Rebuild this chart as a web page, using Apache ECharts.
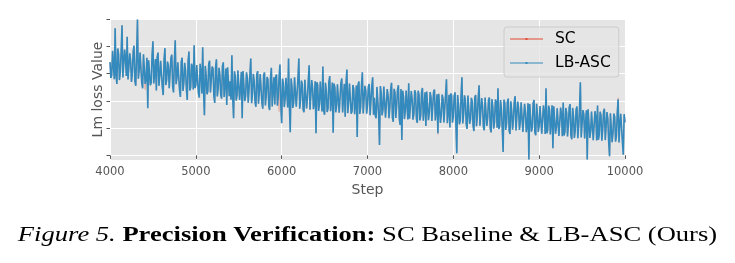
<!DOCTYPE html>
<html>
<head>
<meta charset="utf-8">
<script src="https://cdn.jsdelivr.net/npm/echarts@6/dist/echarts.min.js"></script>
<style>
  html, body { margin: 0; padding: 0; background: #fff; }
  #chart { width: 735px; height: 263px; }
</style>
</head>
<body>
<div id="chart"></div>
<script>
// one reading every 10 steps, from 4000 to 10000
const stepStart = 4000
const stepSize = 10

const lbAscLoss = [
  3.42, 2.84, 2.95, 3.83, 3.88, 2.79, 4.66, 2.93, 2.62, 3.92, 3.71, 2.76, 3.05, 3.81, 4.77, 2.86, 2.88, 3.88, 3.56, 2.91,
  4.35, 2.78, 2.71, 3.74, 3.49, 2.69, 2.98, 3.81, 4.02, 2.72, 2.55, 3.68, 4.98, 2.81, 3.12, 3.77, 3.78, 2.67, 2.46, 3.71,
  3.64, 2.62, 2.83, 3.58, 1.73, 3.49, 3.51, 2.57, 2.67, 3.66, 4.18, 2.64, 3.02, 3.53, 2.38, 3.61, 3.77, 2.55, 2.94, 3.47,
  3.46, 2.49, 2.21, 3.52, 3.93, 2.58, 2.76, 3.44, 3.28, 2.46, 2.52, 3.57, 3.69, 2.53, 2.31, 3.48, 4.22, 2.61, 2.85, 3.41,
  3.37, 2.41, 2.14, 3.43, 3.58, 2.36, 2.66, 3.39, 3.12, 2.44, 2.03, 3.47, 3.81, 2.38, 2.49, 3.36, 3.24, 2.42, 4.04, 2.47,
  2.58, 3.31, 3.33, 2.29, 2.12, 3.36, 3.05, 2.27, 3.96, 2.33, 1.47, 3.28, 2.94, 2.24, 2.36, 3.35, 3.47, 2.31, 2.29, 3.26,
  3.18, 2.19, 1.92, 3.24, 3.52, 2.16, 2.44, 3.21, 2.97, 2.22, 2.08, 3.27, 3.41, 2.14, 2.61, 3.18, 1.85, 3.23, 3.26, 2.17,
  2.72, 2.04, 3.67, 2.09, 1.36, 3.08, 2.89, 2.01, 2.21, 3.11, 3.14, 2.03, 2.47, 3.06, 1.36, 3.09, 3.02, 1.99, 2.18, 3.04,
  2.83, 1.93, 1.94, 2.97, 3.55, 1.91, 2.27, 2.99, 2.71, 1.94, 1.78, 2.96, 3.09, 1.89, 2.36, 2.98, 2.92, 1.92, 1.71, 2.95,
  3.04, 1.83, 2.19, 2.87, 2.78, 1.81, 1.66, 2.84, 3.21, 1.79, 2.42, 2.86, 1.87, 2.88, 2.96, 1.82, 2.13, 2.89, 3.33, 1.85,
  1.18, 2.81, 2.64, 1.77, 2.07, 2.84, 2.88, 1.76, 3.55, 1.79, 0.85, 2.82, 2.52, 1.74, 1.93, 2.86, 2.79, 1.78, 1.74, 2.83,
  3.55, 1.71, 2.02, 2.74, 2.61, 1.68, 1.58, 2.77, 2.84, 1.72, 2.11, 2.73, 3.30, 1.67, 1.69, 2.76, 2.47, 1.69, 1.95, 2.72,
  0.81, 2.68, 2.58, 1.63, 1.88, 2.71, 2.73, 1.61, 3.26, 1.64, 1.49, 2.66, 2.36, 1.59, 1.72, 2.69, 2.91, 1.62, 2.04, 2.67,
  0.83, 2.63, 2.49, 1.58, 1.81, 2.61, 2.67, 1.56, 1.53, 2.64, 2.82, 1.57, 2.08, 2.62, 1.42, 2.65, 3.15, 1.55, 1.97, 2.63,
  2.56, 1.53, 1.62, 2.58, 2.43, 1.51, 1.91, 2.56, 0.67, 2.59, 2.71, 1.52, 1.77, 2.57, 3.05, 1.54, 1.58, 2.55, 2.38, 1.53,
  1.84, 2.52, 2.62, 1.47, 1.49, 2.53, 2.86, 1.49, 2.11, 1.48, 1.36, 2.51, 2.54, 1.46, 0.38, 2.54, 2.27, 1.47, 1.68, 2.52,
  2.49, 1.38, 1.41, 2.43, 2.18, 1.36, 1.75, 2.42, 2.66, 1.39, 1.23, 2.44, 2.31, 1.37, 1.84, 2.41, 2.57, 1.36, 1.12, 2.43,
  0.56, 2.37, 2.14, 1.33, 1.62, 2.38, 2.39, 1.32, 2.64, 1.34, 1.35, 2.36, 2.06, 1.31, 1.51, 2.39, 2.28, 1.33, 1.19, 2.37,
  2.22, 1.28, 1.46, 2.33, 2.47, 1.27, 1.71, 2.31, 1.08, 2.34, 2.35, 1.29, 1.58, 2.32, 2.13, 1.26, 1.29, 2.33, 2.41, 1.28,
  1.66, 2.24, 0.81, 2.26, 2.24, 1.19, 1.49, 2.23, 2.07, 1.21, 1.18, 2.25, 2.79, 1.18, 1.57, 2.22, 1.02, 2.27, 2.19, 1.20,
  1.42, 2.19, 2.31, 1.16, 0.08, 2.21, 1.87, 1.14, 1.26, 2.18, 2.86, 1.17, 1.53, 2.20, 2.02, 1.15, 0.97, 2.19, 2.16, 1.16,
  1.31, 2.11, 1.98, 1.08, 0.89, 2.13, 2.21, 1.07, 1.44, 2.12, 2.57, 1.09, 1.16, 2.10, 1.83, 1.06, 0.92, 2.12, 2.09, 1.08,
  1.37, 2.04, 2.12, 0.99, 0.84, 2.06, 1.76, 0.98, 1.23, 2.05, 1.95, 1.01, 2.46, 0.97, 1.08, 2.03, 1.69, 0.99, 0.12, 2.04,
  1.91, 0.93, 1.17, 1.97, 2.08, 0.92, 0.78, 1.98, 1.62, 0.94, 1.29, 1.96, 2.17, 0.91, 0.96, 1.97, 1.73, 0.93, 1.24, 1.95,
  1.96, 0.86, 0.87, 1.89, 1.58, 0.85, 1.12, 1.91, -0.15, 1.88, 1.81, 0.87, 1.03, 1.90, 2.03, 0.84, 0.74, 1.89, 1.47, 0.86,
  1.09, 1.81, 1.86, 0.79, 0.81, 1.83, 1.54, 0.78, 2.46, 0.81, 0.93, 1.82, 1.68, 0.77, 1.21, 1.84, 0.26, 1.80, 1.77, 0.79,
  1.02, 1.73, 1.73, 0.71, 0.68, 1.75, 1.49, 0.70, 1.94, 0.73, 0.86, 1.74, 1.57, 0.69, 1.11, 1.76, 1.88, 0.72, 0.59, 1.74,
  1.42, 0.64, 0.91, 1.67, 1.79, 0.63, 1.06, 1.68, 2.68, 0.66, 0.73, 1.66, 1.51, 0.62, 1.19, 1.65, -0.15, 1.69, 1.64, 0.64,
  0.88, 1.61, 1.62, 0.56, 0.57, 1.62, 1.39, 0.55, 1.83, 0.57, 0.76, 1.60, 1.46, 0.54, 0.94, 1.61, 1.71, 0.56, 0.49, 1.59,
  1.33, 0.49, -0.03, 1.54, 1.58, 0.48, 0.83, 1.53, 1.41, 0.50, 0.71, 1.55, 2.06, 0.47, 1.12, 1.52, 1.49, 0.49, 0.02, 1.51,
  1.21
]

// baseline run: the same curve almost everywhere, a few readings differ
const scLoss = [
  3.42, 2.84, 2.95, 3.83, 3.88, 2.79, 4.66, 2.93, 2.62, 3.92, 3.71, 2.76, 3.05, 3.81, 4.77, 2.86, 2.88, 3.88, 3.56, 2.91,
  4.35, 2.78, 2.71, 3.74, 3.49, 2.69, 2.98, 3.81, 4.02, 2.72, 2.55, 3.68, 4.98, 2.81, 3.12, 3.77, 3.78, 2.67, 2.46, 3.71,
  3.64, 2.40, 2.83, 3.58, 1.78, 3.49, 3.51, 2.57, 2.67, 3.66, 4.18, 2.64, 3.02, 3.53, 2.38, 3.61, 3.77, 2.55, 2.94, 3.47,
  3.46, 2.49, 2.21, 3.52, 3.93, 2.58, 2.76, 3.44, 3.28, 2.46, 2.52, 3.57, 3.69, 2.53, 2.31, 3.48, 4.22, 2.61, 2.85, 3.41,
  3.37, 2.41, 2.14, 3.43, 3.58, 2.36, 2.66, 3.39, 3.12, 2.44, 2.03, 3.47, 3.81, 2.38, 2.49, 3.36, 3.24, 2.42, 4.04, 2.47,
  2.58, 3.31, 3.33, 2.29, 2.12, 3.36, 3.05, 2.27, 3.96, 2.33, 1.47, 3.28, 2.94, 2.24, 2.36, 3.35, 3.47, 2.31, 2.29, 3.26,
  3.18, 2.19, 1.92, 3.24, 3.52, 2.16, 2.44, 3.21, 2.97, 2.22, 2.08, 3.27, 3.41, 2.14, 2.61, 3.18, 1.85, 3.23, 3.26, 2.17,
  2.72, 2.04, 3.67, 2.09, 1.36, 3.08, 2.89, 2.01, 2.21, 3.11, 3.14, 2.03, 2.47, 3.06, 1.36, 3.09, 3.02, 1.99, 2.18, 3.04,
  2.83, 1.93, 1.94, 2.97, 3.55, 1.91, 2.27, 2.99, 2.71, 1.94, 1.78, 2.96, 3.09, 1.89, 2.36, 2.98, 2.92, 1.92, 1.71, 2.95,
  3.04, 1.83, 2.19, 2.87, 2.78, 1.81, 1.66, 2.84, 3.21, 1.79, 2.42, 2.86, 1.87, 2.88, 2.96, 1.82, 2.13, 1.60, 3.33, 1.85,
  1.18, 2.81, 2.64, 1.77, 2.07, 2.84, 2.88, 1.76, 3.55, 1.79, 0.85, 2.82, 2.52, 1.74, 1.93, 2.86, 2.79, 1.78, 1.74, 2.83,
  3.55, 1.71, 2.02, 2.74, 2.61, 1.68, 1.58, 2.77, 2.84, 1.72, 2.11, 2.73, 3.30, 1.67, 1.69, 2.76, 2.47, 1.69, 1.95, 2.72,
  0.81, 2.68, 2.58, 1.63, 1.88, 2.71, 2.73, 1.61, 3.26, 1.64, 1.49, 2.66, 2.36, 1.59, 1.72, 2.69, 2.91, 1.62, 2.04, 2.67,
  0.83, 2.63, 2.49, 1.58, 1.81, 2.61, 2.67, 1.56, 1.53, 2.64, 2.82, 1.57, 2.08, 2.62, 1.42, 2.65, 3.15, 1.55, 1.97, 2.63,
  2.56, 1.53, 1.62, 2.58, 2.43, 1.51, 1.91, 2.56, 0.67, 2.59, 2.71, 1.52, 1.77, 2.57, 3.05, 1.54, 1.58, 2.55, 2.38, 1.53,
  1.84, 2.52, 2.62, 1.47, 1.49, 2.53, 2.86, 1.49, 2.11, 1.48, 1.36, 2.51, 2.54, 1.46, 0.38, 2.54, 2.27, 1.47, 1.68, 2.52,
  2.49, 1.38, 1.41, 2.43, 2.18, 1.36, 1.75, 2.42, 2.66, 1.39, 1.23, 2.44, 2.31, 1.37, 1.84, 2.41, 2.57, 1.36, 1.12, 2.43,
  0.56, 2.37, 2.14, 1.33, 1.62, 2.38, 2.39, 1.32, 2.64, 1.34, 1.35, 2.36, 2.06, 1.31, 1.51, 2.39, 2.28, 1.33, 1.19, 2.37,
  2.22, 1.28, 1.46, 2.33, 2.47, 1.27, 1.71, 2.31, 1.08, 2.34, 2.35, 1.29, 1.58, 2.32, 2.13, 1.26, 1.29, 2.33, 2.41, 1.28,
  1.66, 2.24, 0.76, 2.26, 2.24, 1.19, 1.49, 2.23, 2.07, 1.21, 1.18, 2.25, 2.79, 1.18, 1.57, 2.22, 1.02, 2.27, 2.19, 1.20,
  1.42, 2.19, 2.31, 1.16, 0.08, 2.21, 1.87, 1.14, 1.26, 2.18, 2.86, 1.17, 1.53, 2.20, 2.02, 1.15, 0.97, 2.19, 2.16, 1.16,
  1.31, 2.11, 1.98, 1.08, 0.89, 2.13, 2.21, 1.07, 1.44, 2.12, 2.57, 1.09, 1.16, 2.10, 1.83, 1.06, 0.92, 2.12, 2.09, 1.08,
  1.37, 2.04, 2.12, 0.99, 0.84, 2.06, 1.76, 0.98, 1.23, 2.05, 1.95, 1.01, 2.46, 0.97, 1.08, 2.03, 1.69, 0.99, 0.12, 2.04,
  1.91, 0.93, 1.17, 1.97, 2.08, 0.92, 0.78, 1.98, 1.62, 0.94, 1.29, 1.96, 2.17, 0.91, 0.96, 1.97, 1.73, 0.93, 1.24, 1.95,
  1.96, 0.86, 0.87, 1.89, 1.58, 0.85, 1.12, 1.91, -0.15, 1.88, 1.81, 0.87, 1.03, 1.90, 2.03, 0.84, 0.74, 1.89, 1.47, 0.86,
  1.09, 1.81, 1.86, 0.79, 0.81, 1.83, 1.54, 0.78, 2.46, 0.81, 0.93, 1.82, 1.68, 0.77, 1.21, 1.84, 0.26, 1.80, 1.77, 0.79,
  1.02, 1.73, 1.73, 0.71, 0.68, 1.75, 1.49, 0.70, 1.94, 0.73, 0.86, 1.74, 1.57, 0.69, 1.11, 1.76, 1.88, 0.72, 0.59, 1.74,
  1.42, 0.64, 0.91, 1.67, 1.79, 0.63, 1.06, 1.68, 2.68, 0.66, 0.73, 1.66, 1.51, 0.62, 1.19, 1.65, -0.15, 1.69, 1.64, 0.64,
  0.88, 1.61, 1.62, 0.56, 0.57, 1.62, 1.39, 0.55, 1.83, 0.57, 0.76, 1.60, 1.46, 0.54, 0.94, 1.61, 1.71, 0.56, 0.49, 1.59,
  1.33, 0.49, -0.03, 1.54, 1.58, 0.48, 0.83, 1.53, 1.41, 0.50, 0.71, 1.55, 2.12, 0.47, 1.12, 1.52, 1.49, 0.49, 0.02, 1.51,
  1.21
]

const xTicks = [4000, 5000, 6000, 7000, 8000, 9000, 10000]
const yTicks = [0, 1, 2, 3, 4, 5]
const caption = '{i|Figure 5.} {b|Precision Verification:} SC Baseline & LB-ASC (Ours)'

const toPoints = arr => arr.map((v, i) => [stepStart + i * stepSize, v])

const chart = echarts.init(document.getElementById('chart'))
const axisGrey = '#555555'
const capFont = 21.7

chart.setOption({
  animation: false,
  graphic: [
    {
      // caption under the plot, the paper's figure is a bit wider than tall
      type: 'text',
      x: 367.5,
      y: 235,
      scaleX: 1.225,
      silent: true,
      style: {
        text: caption,
        align: 'center',
        verticalAlign: 'middle',
        fontFamily: 'Liberation Serif',
        fontSize: capFont,
        fill: '#000',
        rich: {
          i: { fontFamily: 'Liberation Serif', fontSize: capFont, fontStyle: 'italic', fill: '#000' },
          b: { fontFamily: 'Liberation Serif', fontSize: capFont, fontWeight: 'bold', fill: '#000' }
        }
      }
    }
  ],
  legend: {
    left: 504,
    top: 27,
    orient: 'vertical',
    padding: [3, 8, 5, 6],
    itemGap: 6,
    itemWidth: 33,
    itemHeight: 3,
    icon: 'path://M0,1H33V2H0Z M15.5,0.5H17.5V2.5H15.5Z',
    backgroundColor: 'rgba(229,229,229,0.8)',
    borderColor: '#cccccc',
    borderWidth: 1,
    borderRadius: 3,
    textStyle: {
      fontFamily: 'DejaVu Sans',
      fontSize: 15.5,
      lineHeight: 18,
      color: '#000',
      padding: [0, 0, 0, 7]
    },
    data: ['SC', 'LB-ASC']
  },
  grid: {
    left: 110,
    right: 110,
    top: 19,
    bottom: 103,
    show: true,
    backgroundColor: '#E5E5E5',
    borderWidth: 0
  },
  xAxis: {
    type: 'value',
    min: xTicks[0],
    max: xTicks[xTicks.length - 1],
    interval: 1000,
    name: 'Step',
    nameLocation: 'middle',
    nameGap: 19,
    nameTextStyle: { fontFamily: 'DejaVu Sans', fontSize: 14, color: axisGrey },
    axisLine: { show: false },
    axisTick: { show: true, length: 3.5, lineStyle: { color: axisGrey } },
    axisLabel: {
      margin: 6,
      fontFamily: 'DejaVu Sans',
      fontSize: 11.5,
      color: axisGrey,
      formatter: v => String(v)
    },
    splitLine: { show: true, lineStyle: { color: '#ffffff', width: 1 } }
  },
  yAxis: {
    type: 'value',
    min: -0.17,
    max: 5,
    name: 'Lm loss Value',
    nameLocation: 'middle',
    nameGap: 5,
    nameTextStyle: { fontFamily: 'DejaVu Sans', fontSize: 14, color: axisGrey },
    axisLine: { show: false },
    axisTick: { show: true, length: 3.5, customValues: yTicks, lineStyle: { color: axisGrey } },
    axisLabel: { show: false, customValues: yTicks },
    splitLine: { show: true, lineStyle: { color: '#ffffff', width: 1 } }
  },
  series: [
    {
      type: 'line',
      name: 'SC',
      data: toPoints(scLoss),
      showSymbol: false,
      symbol: 'none',
      color: '#E24A33',
      lineStyle: { width: 1.2, color: '#E24A33', opacity: 0.35 },
      silent: true
    },
    {
      type: 'line',
      name: 'LB-ASC',
      data: toPoints(lbAscLoss),
      showSymbol: false,
      symbol: 'none',
      color: '#348ABD',
      lineStyle: { width: 1.6, color: '#348ABD' },
      silent: true
    }
  ]
})
</script>
</body>
</html>
